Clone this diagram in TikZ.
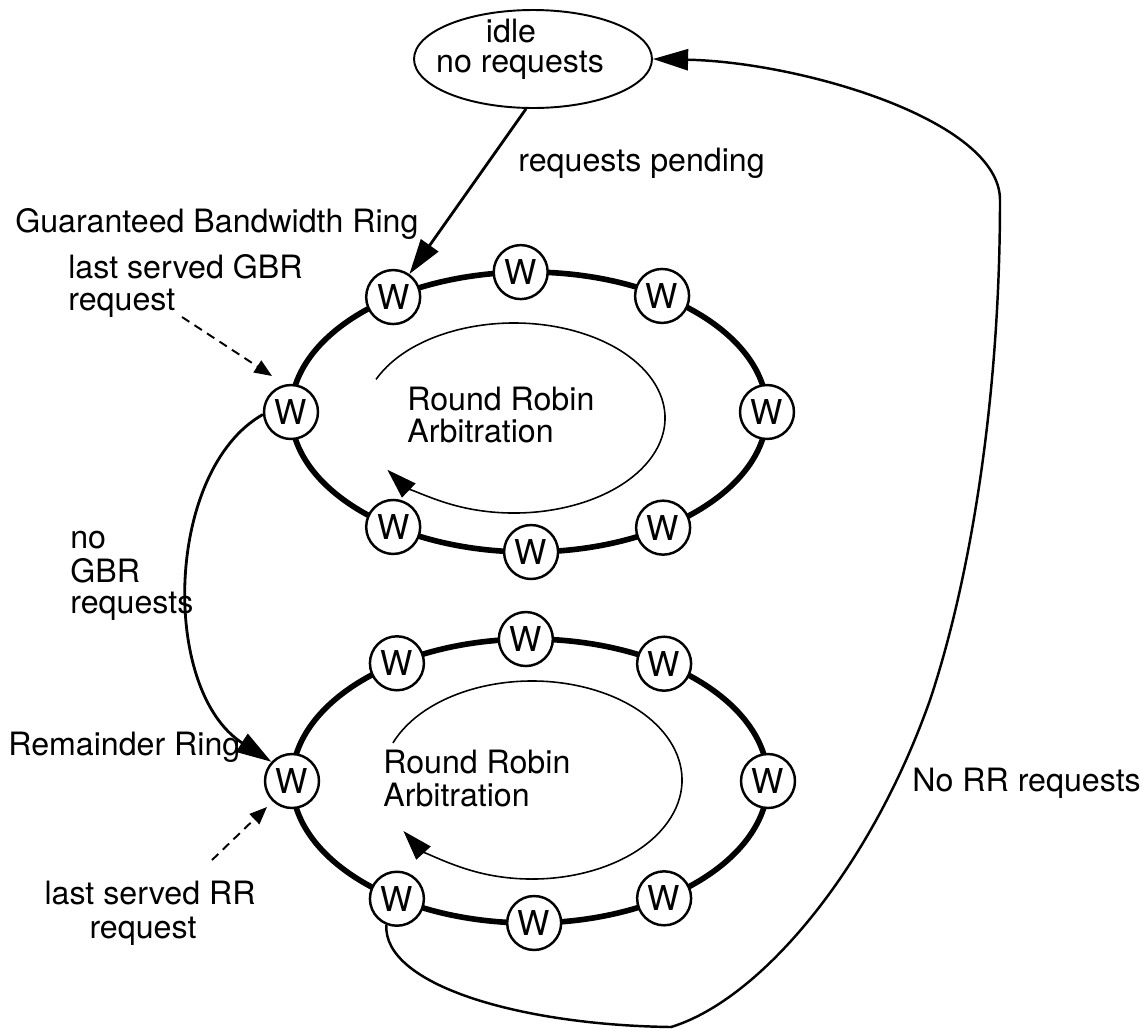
\documentclass[tikz,border=0pt]{standalone}
\usepackage{fontspec}
\setmainfont{TeX Gyre Heros}
\usetikzlibrary{arrows.meta,calc,shapes.geometric}

\begin{document}
\begin{tikzpicture}[x=0.02cm,y=0.02cm,
  every node/.style={font=\fontsize{18.3}{20}\selectfont},
  lbl/.style={anchor=base west,inner sep=0pt},
  clbl/.style={anchor=base,inner sep=0pt},
  wnode/.style={circle,draw,line width=1.4pt,fill=white,minimum size=1.08cm,inner sep=0pt,
    font=\fontsize{19.5}{20}\selectfont},
  ringline/.style={line width=3.2pt},
  conn/.style={line width=1.6pt,-{Triangle[length=20pt,width=12pt]}},
  retline/.style={line width=1.4pt,-{Triangle[length=20pt,width=12pt]}},
  rrarc/.style={line width=0.9pt,-{Triangle[length=17pt,width=11pt]}},
  dashline/.style={line width=1.1pt,dashed,dash pattern=on 5pt off 3.5pt,-{Triangle[length=10pt,width=8pt]}}
]
\useasboundingbox (0,0) rectangle (1142,-1029);

% ring centres
\coordinate (gc) at (529,-412);
\coordinate (rc) at (530,-781);

% the two rings
\draw[ringline] (gc) ellipse [x radius=238, y radius=140];
\draw[ringline] (rc) ellipse [x radius=238, y radius=142];

% idle state
\node[ellipse,draw,line width=1.1pt,minimum width=4.76cm,minimum height=1.96cm,inner sep=0pt] (idle) at (533,-59) {};
\node[clbl] (idleA) at (511,-42) {idle};
\node[clbl] (idleB) at (520,-72) {no requests};

% waiting stations on the guaranteed bandwidth ring
\node[wnode] (gL)  at ($(gc)+(180:238 and 140)$) {W};
\node[wnode] (gTL) at ($(gc)+(124.8:238 and 140)$) {W};
\node[wnode] (gT)  at ($(gc)+(92:238 and 140)$) {W};
\node[wnode] (gTR) at ($(gc)+(56:238 and 140)$) {W};
\node[wnode] (gR)  at ($(gc)+(0:238 and 140)$) {W};
\node[wnode] (gBR) at ($(gc)+(-55.7:238 and 140)$) {W};
\node[wnode] (gB)  at ($(gc)+(-89.5:238 and 140)$) {W};
\node[wnode] (gBL) at ($(gc)+(-124.8:238 and 140)$) {W};

% waiting stations on the remainder ring
\node[wnode] (rL)  at ($(rc)+(180:238 and 142)$) {W};
\node[wnode] (rTL) at ($(rc)+(124:238 and 142)$) {W};
\node[wnode] (rT)  at ($(rc)+(91:238 and 142)$) {W};
\node[wnode] (rTR) at ($(rc)+(55.7:238 and 142)$) {W};
\node[wnode] (rR)  at ($(rc)+(0:238 and 142)$) {W};
\node[wnode] (rBR) at ($(rc)+(-55.7:238 and 142)$) {W};
\node[wnode] (rB)  at ($(rc)+(-89:238 and 142)$) {W};
\node[wnode] (rBL) at ($(rc)+(-124:238 and 142)$) {W};

% round robin direction inside each ring
\draw[rrarc] (514,-418) ++(156:151 and 95) arc[start angle=156, end angle=-147, x radius=151, y radius=95];
\draw[rrarc] (532,-780) ++(158:150 and 99) arc[start angle=158, end angle=-149, x radius=150, y radius=99];

\node[lbl] (rrA1) at (407,-410) {Round Robin};
\node[lbl] (rrA2) at (407,-442) {Arbitration};
\node[lbl] (rrB1) at (383,-773) {Round Robin};
\node[lbl] (rrB2) at (383,-806) {Arbitration};

% transitions
\draw[conn] (idle.-98) -- (gTL);
\node[lbl] (pend) at (518,-171) {requests pending};

\draw[conn] (gL.185) .. controls (165,-470) and (160,-690) .. (rL.137);
\node[lbl] (noA) at (70,-548) {no};
\node[lbl] (noB) at (70,-582) {GBR};
\node[lbl] (noC) at (70,-613) {requests};

\draw[retline] (rBL.-112) .. controls (383,-985) and (520,-1025) .. (671,-1027)
  .. controls (760,-1000) and (870,-870) .. (930,-700)
  .. controls (970,-580) and (1000,-400) .. (1000,-200)
  .. controls (1000,-120) and (800,-62) .. (idle.east);
\node[lbl] (norr) at (912,-791) {No RR requests};

% ring names and pointers
\node[lbl] (gbrname) at (15,-232) {Guaranteed Bandwidth Ring};
\node[lbl] (rrname) at (8,-755) {Remainder Ring};

\node[lbl] (lgA) at (68,-278) {last served GBR};
\node[lbl] (lgB) at (68,-310) {request};
\coordinate (gbrFrom) at (182,-317);
\coordinate (gbrTo) at (272,-376);
\draw[dashline] (gbrFrom) -- (gbrTo);

\node[clbl] (lrA) at (150,-904) {last served RR};
\node[clbl] (lrB) at (143,-938) {request};
\coordinate (rrFrom) at (212,-860);
\coordinate (rrTo) at (267,-807);
\draw[dashline] (rrFrom) -- (rrTo);
\end{tikzpicture}
\end{document}
